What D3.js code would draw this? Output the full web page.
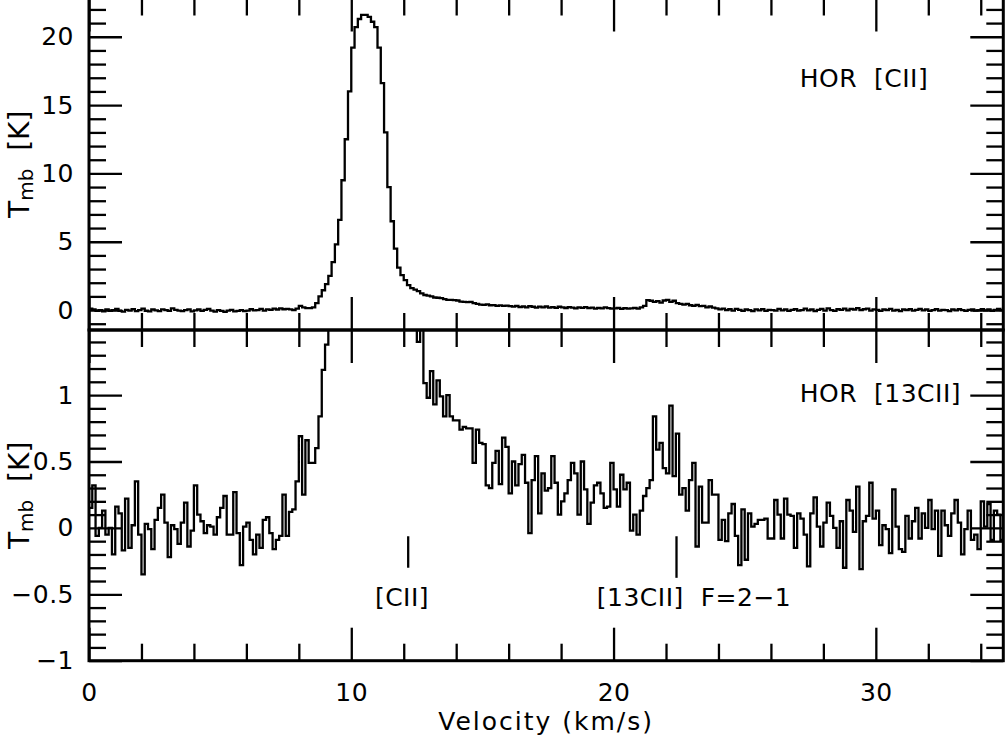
<!DOCTYPE html>
<html lang="en">
<head>
<meta charset="UTF-8">
<title>HOR [CII] / [13CII] spectra</title>
<style>
  html, body { margin: 0; padding: 0; background: #fff; overflow: hidden; }
  svg { display: block; }
  text { font-family: "DejaVu Sans", sans-serif; fill: #000; }
  .tick line { stroke: #000; stroke-width: 2.3px; }
  .tick text { font-size: 25px; letter-spacing: 0.5px; }
  .spec { fill: none; stroke: #000; stroke-width: 2.3px; }
  .frame { fill: none; stroke: #000; stroke-width: 3px; }
</style>
</head>
<body>
<script src="https://cdn.jsdelivr.net/npm/d3@7"></script>
<script>
// spectral grid (km/s)
const velocityStart = 0;
const channelWidth = 0.125;

// top panel: HOR [CII], Tmb in K, one value per channel
const tmbCII = [
  0.10,0.05,-0.05,0.0,-0.10,0.05,-0.05,0.0,0.08,-0.06,
  -0.12,0.02,-0.04,0.06,-0.08,0.0,0.10,-0.05,-0.10,0.04,
  -0.02,-0.08,0.05,0.0,-0.06,0.12,0.02,-0.04,-0.08,0.0,
  0.05,-0.10,-0.02,0.04,-0.06,0.02,0.08,-0.04,-0.12,0.0,
  -0.06,-0.14,-0.04,0.02,-0.10,-0.06,0.0,-0.08,-0.04,0.06,
  -0.02,0.0,0.08,-0.04,0.05,0.02,0.10,0.04,0.12,0.06,
  0.08,0.05,0.0,0.10,0.30,0.20,0.14,0.14,0.20,0.50,
  1.0,1.45,1.9,2.5,3.5,4.8,6.6,9.5,12.5,16.0,
  19.2,20.7,21.3,21.6,21.6,21.45,21.1,20.7,19.2,16.6,
  13.0,9.0,6.5,4.5,3.1,2.56,2.19,1.83,1.6,1.5,
  1.39,1.22,1.1,1.05,1.0,0.92,0.9,0.88,0.8,0.75,
  0.75,0.73,0.7,0.62,0.6,0.58,0.6,0.5,0.45,0.4,
  0.38,0.42,0.35,0.36,0.3,0.34,0.3,0.32,0.28,0.25,
  0.3,0.22,0.26,0.2,0.28,0.24,0.18,0.25,0.2,0.26,
  0.18,0.22,0.16,0.24,0.2,0.15,0.22,0.18,0.12,0.2,
  0.16,0.22,0.14,0.18,0.1,0.16,0.12,0.2,0.14,0.1,
  0.12,0.15,0.08,0.14,0.1,0.12,0.16,0.1,0.2,0.3,
  0.72,0.68,0.6,0.65,0.55,0.7,0.75,0.6,0.68,0.5,
  0.45,0.4,0.45,0.35,0.3,0.38,0.28,0.3,0.2,0.26,
  0.18,0.12,0.05,0.1,0.0,0.06,-0.04,0.08,0.02,-0.06,
  0.04,0.0,-0.08,0.05,-0.02,0.06,-0.06,0.02,0.0,-0.04,
  0.08,-0.02,0.04,-0.06,0.02,0.06,-0.04,0.0,0.1,-0.02,
  0.04,-0.08,0.02,0.08,-0.04,0.12,0.0,-0.06,0.06,0.02,
  0.1,-0.02,0.08,0.04,0.14,0.0,0.06,0.1,-0.04,0.05,
  0.02,-0.06,0.04,0.0,0.08,-0.04,0.02,-0.08,0.04,0.0,
  0.06,-0.04,0.02,0.08,-0.02,0.04,-0.06,0.0,0.06,-0.04,
  0.02,0.0,-0.08,0.04,-0.02,0.06,0.0,-0.06,0.02,0.04,
  -0.04,0.0,0.06,-0.02,0.04,-0.06,0.02,0.08,0.0,0.04
];

// bottom panel: HOR [13CII], same grid
const tmb13CII = [
  0.15,0.32,-0.06,0.0,0.13,-0.05,0.0,-0.2,0.16,0.11,
  -0.17,0.22,-0.15,0.02,0.35,-0.05,-0.35,0.03,-0.01,-0.16,
  0.06,0.15,0.25,0.04,-0.22,0.02,-0.01,-0.12,0.04,0.19,
  -0.14,-0.02,0.32,0.1,0.05,-0.04,0.02,0.01,-0.05,0.08,
  0.15,0.24,-0.05,-0.05,0.27,-0.04,-0.28,0.01,0.04,-0.09,
  -0.2,-0.05,-0.15,0.06,0.08,-0.04,-0.16,-0.09,-0.06,0.25,
  -0.06,0.12,0.14,0.35,0.69,0.25,0.66,0.49,0.49,0.6,
  0.84,1.19,1.38,2.5,3.5,4.8,6.6,9.5,12.5,16.0,
  19.2,20.7,21.3,21.6,21.6,21.45,21.1,20.7,19.2,16.6,
  13.0,9.0,6.5,4.5,3.1,2.56,2.19,1.83,1.7,1.6,
  1.40,1.6,1.09,0.98,1.18,0.93,1.11,0.99,0.84,1.0,
  0.84,0.81,0.81,0.74,0.76,0.75,0.75,0.49,0.74,0.64,
  0.63,0.32,0.30,0.49,0.58,0.33,0.68,0.61,0.26,0.50,
  0.32,0.48,0.55,0.34,-0.04,0.36,0.54,0.11,0.41,0.28,
  0.30,0.54,0.34,0.10,0.2,0.26,0.36,0.49,0.41,0.10,
  0.50,0.29,0.03,0.19,0.32,0.34,0.26,0.15,0.16,0.49,
  0.29,0.16,0.40,0.29,0.34,-0.02,0.10,-0.05,0.13,0.24,
  0.30,0.36,0.84,0.59,0.64,0.45,0.41,0.92,0.39,0.71,
  0.25,0.30,0.13,0.36,0.49,-0.14,0.31,0.04,0.04,0.36,
  0.25,0.25,-0.09,0.06,-0.1,0.11,0.18,-0.06,-0.28,0.14,
  -0.24,0.11,0.01,0.03,0.06,0.06,0.07,-0.08,-0.08,0.21,
  0.10,-0.08,0.22,0.10,0.09,-0.15,0.11,0.07,-0.05,-0.29,
  0.11,0.23,0.01,-0.14,0.04,0.19,0.09,0.0,-0.15,0.05,
  -0.30,0.21,0.13,-0.03,0.31,-0.31,0.05,0.09,0.34,0.07,
  0.13,-0.13,0.02,-0.01,-0.19,0.29,0.01,-0.16,-0.18,0.09,
  -0.08,0.05,0.15,-0.08,0.11,0.0,0.21,-0.01,0.13,-0.21,
  0.13,0.02,-0.06,0.11,0.21,0.04,-0.20,-0.01,0.13,-0.09,
  -0.05,-0.16,0.20,0.01,0.18,-0.09,0.13,0.10,-0.09,0.10
];

const xMajorTicks = [0, 10, 20, 30];
const topMajorTicks = [0, 5, 10, 15, 20];
const bottomMajorTicks = [-1, -0.5, 0, 0.5, 1];

const panelLabels = ["HOR  [CII]", "HOR  [13CII]"];
const lineMarkers = [
  { name: "[CII]", v: 12.17, textStart: 10.9 },
  { name: "[13CII]  F=2\u22121", v: 22.4, textStart: 19.36 }
];

const W = 1006, H = 739;
const svg = d3.select("body").append("svg").attr("width", W).attr("height", H);

const x = d3.scaleLinear().domain([0, 34.86]).range([89, 1003.3]);
const yTop = d3.scaleLinear().domain([-1.46, 22.8]).range([330, -1.5]);
const yBot = d3.scaleLinear().domain([-1, 1.49]).range([660.7, 330]);

const defs = svg.append("defs");
function clip(id, y) {
  defs.append("clipPath").attr("id", id).append("rect")
    .attr("x", x.range()[0]).attr("y", y.range()[1])
    .attr("width", x.range()[1] - x.range()[0])
    .attr("height", y.range()[0] - y.range()[1]);
}
clip("clipTop", yTop);
clip("clipBot", yBot);

function stepPoints(vals) {
  const pts = vals.map((t, i) => [velocityStart + i * channelWidth, t]);
  pts.push([velocityStart + vals.length * channelWidth, vals[vals.length - 1]]);
  return pts;
}

function minorRange(lo, hi, step) {
  return d3.range(Math.round(lo / step), Math.round(hi / step) + 1).map(k => +(k * step).toFixed(3));
}

const xMinor = minorRange(0, 34, 2).filter(v => v % 10 !== 0);

function drawPanel(y, vals, clipId, majorY, minorY, showXLabels) {
  const g = svg.append("g");
  const [x0, x1] = x.range();
  const [yb, yt] = y.range();

  const line = d3.line().curve(d3.curveStepAfter).x(d => x(d[0])).y(d => y(d[1]));
  g.append("path").datum(stepPoints(vals)).attr("class", "spec")
    .attr("clip-path", `url(#${clipId})`).attr("d", line);

  const put = (axis, tx, ty) => {
    const a = g.append("g").attr("transform", `translate(${tx},${ty})`).call(axis);
    a.select(".domain").remove();
    return a;
  };

  // left
  put(d3.axisLeft(y).tickValues(majorY).tickSize(-33).tickPadding(15).tickFormat(d3.format("")), x0, 0);
  put(d3.axisLeft(y).tickValues(minorY).tickSize(-17).tickFormat(""), x0, 0);
  // right
  put(d3.axisRight(y).tickValues(majorY).tickSize(-33).tickFormat(""), x1, 0);
  put(d3.axisRight(y).tickValues(minorY).tickSize(-17).tickFormat(""), x1, 0);
  // top edge
  put(d3.axisTop(x).tickValues(xMajorTicks).tickSize(-33).tickFormat(""), 0, yt);
  put(d3.axisTop(x).tickValues(xMinor).tickSize(-17).tickFormat(""), 0, yt);
  // bottom edge
  put(d3.axisBottom(x).tickValues(xMajorTicks).tickSize(-33).tickPadding(23)
      .tickFormat(showXLabels ? d3.format("") : ""), 0, yb);
  put(d3.axisBottom(x).tickValues(xMinor).tickSize(-17).tickFormat(""), 0, yb);

  g.append("rect").attr("class", "frame")
    .attr("x", x0).attr("y", yt).attr("width", x1 - x0).attr("height", yb - yt);

  // y label
  const cy = (yb + yt) / 2;
  const t = g.append("text")
    .attr("transform", `translate(29,${cy}) rotate(-90)`)
    .attr("text-anchor", "middle")
    .style("font-size", "28px");
  t.append("tspan").text("T");
  t.append("tspan").attr("dy", 4).style("font-size", "20px").text("mb");
  t.append("tspan").attr("dy", -4).attr("xml:space", "preserve").text("  [K]");
  return g;
}

drawPanel(yTop, tmbCII, "clipTop", topMajorTicks, minorRange(-1, 22, 1).filter(v => v % 5 !== 0), false);
drawPanel(yBot, tmb13CII, "clipBot", bottomMajorTicks, minorRange(-1, 1.4, 0.1).filter(v => Math.abs(v * 2 - Math.round(v * 2)) > 1e-6), true);

// panel labels
svg.append("text").attr("x", x(27.1)).attr("y", yTop(16.34))
  .attr("xml:space", "preserve").style("font-size", "25px").style("letter-spacing", "0.5px")
  .text(panelLabels[0]);
svg.append("text").attr("x", x(27.1)).attr("y", yBot(0.95))
  .attr("xml:space", "preserve").style("font-size", "25px").style("letter-spacing", "0.5px")
  .text(panelLabels[1]);

// line markers in bottom panel
svg.selectAll(".marker").data(lineMarkers).enter().append("line")
  .attr("x1", d => x(d.v)).attr("x2", d => x(d.v))
  .attr("y1", yBot(-0.063)).attr("y2", (d, i) => yBot(i === 0 ? -0.30 : -0.376))
  .attr("stroke", "#000").attr("stroke-width", 2.3);
svg.selectAll(".mlabel").data(lineMarkers).enter().append("text")
  .attr("x", d => x(d.textStart)).attr("y", yBot(-0.59))
  .attr("xml:space", "preserve").style("font-size", "25px").style("letter-spacing", "0.5px")
  .text(d => d.name);

// x axis title
svg.append("text").attr("x", (x.range()[0] + x.range()[1]) / 2).attr("y", 730)
  .attr("text-anchor", "middle").style("font-size", "25px").style("letter-spacing", "2px")
  .text("Velocity (km/s)");
</script>
</body>
</html>
